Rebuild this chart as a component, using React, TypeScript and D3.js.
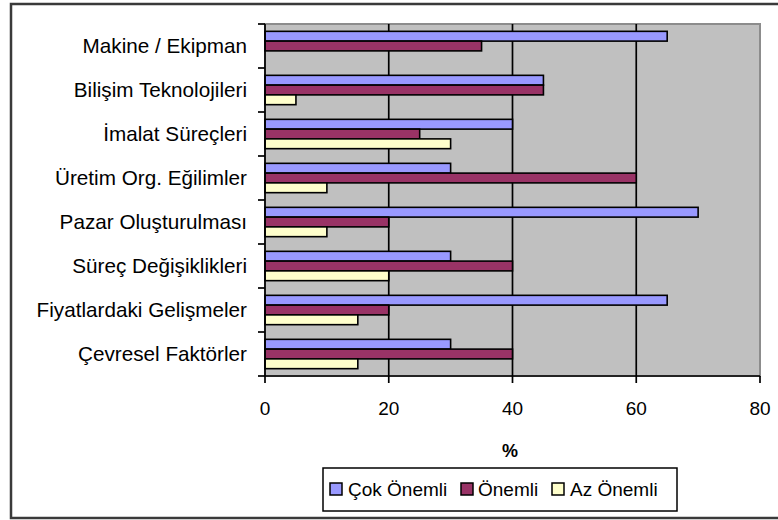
import React from "react";
import * as d3 from "d3";

const categories = [
  "Makine / Ekipman",
  "Bilişim Teknolojileri",
  "İmalat Süreçleri",
  "Üretim Org. Eğilimler",
  "Pazar Oluşturulması",
  "Süreç Değişiklikleri",
  "Fiyatlardaki Gelişmeler",
  "Çevresel Faktörler",
];
const seriesNames = ["Çok Önemli", "Önemli", "Az Önemli"];
const cokOnemli = [65, 45, 40, 30, 70, 30, 65, 30];
const onemli = [35, 45, 25, 60, 20, 40, 20, 40];
const azOnemli = [0, 5, 30, 10, 10, 20, 15, 15];
const seriesColors = ["#9999FF", "#993366", "#FFFFCC"];
const xTicks = [0, 20, 40, 60, 80];
const xTitle = "%";

const W = 778;
const H = 520;
const plot = { left: 265, right: 760, top: 24, bottom: 376 };
const FONT = "'Liberation Sans', Arial, sans-serif";

export default function App() {
  const values = [cokOnemli, onemli, azOnemli];
  const x = d3.scaleLinear().domain([0, 80]).range([plot.left, plot.right]);
  const y0 = d3
    .scaleBand<string>()
    .domain(categories)
    .range([plot.top, plot.bottom])
    .padding(0);
  const bw = y0.bandwidth();
  const y1 = d3
    .scaleBand<string>()
    .domain(seriesNames)
    .range([bw * (0.75 / 4.5), bw * (1 - 0.75 / 4.5)])
    .padding(0);

  const boundaries = d3.range(categories.length + 1).map((i) => plot.top + i * bw);

  const legendX = [330, 461, 552];
  const legendTextX = [348, 478, 570];

  return (
    <svg
      width={W}
      height={H}
      style={{ position: "absolute", left: 0, top: 0, background: "#fff" }}
      fontFamily={FONT}
    >
      <rect x={0} y={0} width={W} height={H} fill="#fff" />
      {/* outer frame */}
      <rect x={11} y={4} width={820} height={514} fill="#fff" stroke="#3a3a3a" strokeWidth={2.5} />

      {/* plot area */}
      <rect
        x={plot.left}
        y={plot.top}
        width={plot.right - plot.left}
        height={plot.bottom - plot.top}
        fill="#C0C0C0"
        stroke="#8c8c8c"
        strokeWidth={2}
      />
      {/* gridlines */}
      {xTicks.slice(1, -1).map((t) => (
        <line key={"g" + t} x1={x(t)} x2={x(t)} y1={plot.top} y2={plot.bottom} stroke="#000" strokeWidth={1.7} />
      ))}

      {/* bars */}
      {categories.map((c, ci) => (
        <g key={c} transform={`translate(0,${y0(c)})`}>
          {seriesNames.map((s, si) => {
            const v = values[si][ci];
            if (!v) return null;
            return (
              <rect
                key={s}
                x={x(0)}
                y={y1(s)}
                width={x(v) - x(0)}
                height={y1.bandwidth()}
                fill={seriesColors[si]}
                stroke="#000"
                strokeWidth={1.6}
              />
            );
          })}
        </g>
      ))}

      {/* axes */}
      <line x1={plot.left} x2={plot.right} y1={plot.bottom} y2={plot.bottom} stroke="#000" strokeWidth={1.7} />
      <line x1={plot.left} x2={plot.left} y1={plot.top} y2={plot.bottom} stroke="#000" strokeWidth={1.7} />
      {xTicks.map((t) => (
        <g key={"xt" + t}>
          <line x1={x(t)} x2={x(t)} y1={plot.bottom} y2={plot.bottom + 7} stroke="#000" strokeWidth={1.7} />
          <text x={x(t)} y={415} textAnchor="middle" fontSize={19} fill="#000">
            {t}
          </text>
        </g>
      ))}
      {boundaries.map((b, i) => (
        <line key={"yt" + i} x1={plot.left - 7} x2={plot.left} y1={b} y2={b} stroke="#000" strokeWidth={1.7} />
      ))}
      {categories.map((c) => (
        <text
          key={"cl" + c}
          x={247}
          y={(y0(c) as number) + bw / 2}
          dy="0.35em"
          textAnchor="end"
          fontSize={20.7}
          fill="#000"
        >
          {c}
        </text>
      ))}

      {/* x title */}
      <text x={510} y={457} textAnchor="middle" fontSize={18} fontWeight="bold" fill="#000">
        {xTitle}
      </text>

      {/* legend */}
      <rect x={323} y={468} width={354} height={43} fill="#fff" stroke="#000" strokeWidth={1.5} />
      {seriesNames.map((s, i) => (
        <g key={"lg" + s}>
          <rect x={legendX[i]} y={483} width={12} height={12} fill={seriesColors[i]} stroke="#000" strokeWidth={1.5} />
          <text x={legendTextX[i]} y={496} fontSize={19} fill="#000">
            {s}
          </text>
        </g>
      ))}
    </svg>
  );
}
